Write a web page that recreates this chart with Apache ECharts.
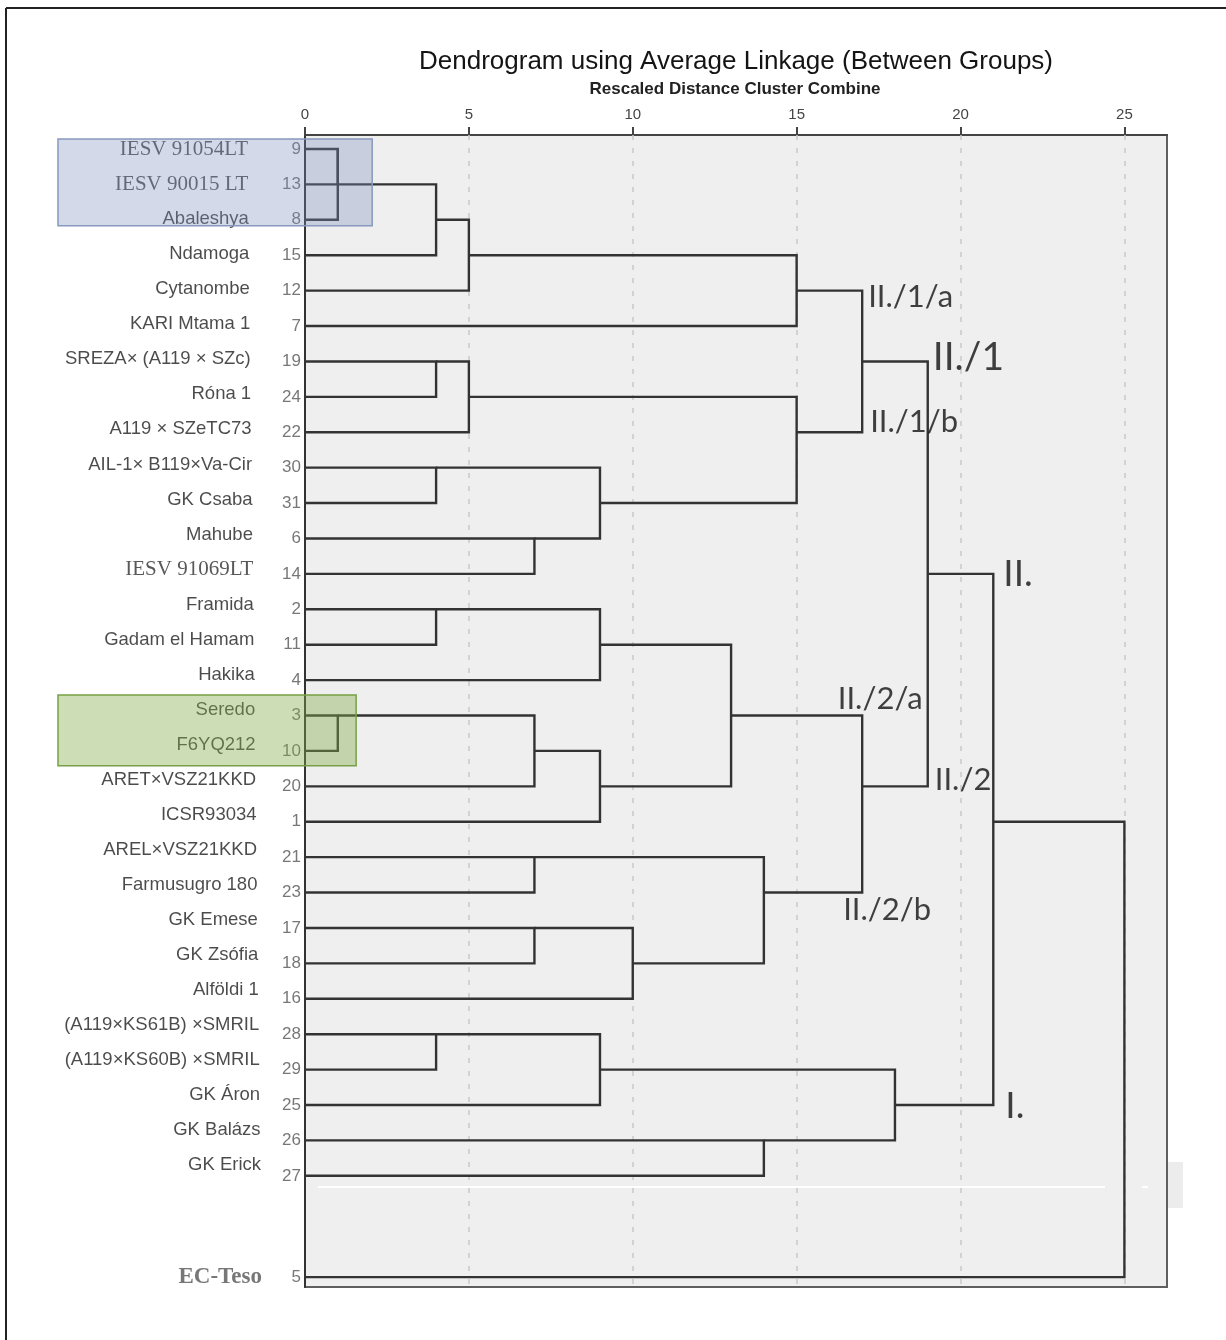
<!DOCTYPE html>
<html>
<head>
<meta charset="utf-8">
<script src="https://cdn.jsdelivr.net/npm/echarts@6/dist/echarts.min.js"></script>
<style>
  html, body { margin: 0; padding: 0; background: #ffffff; }
  #chart { width: 1226px; height: 1340px; }
</style>
</head>
<body>
<div id="chart"></div>
<script>
// Cases in dendrogram order, top to bottom
const caseNumbers = [9, 13, 8, 15, 12, 7, 19, 24, 22, 30, 31, 6, 14, 2, 11, 4, 3, 10, 20, 1, 21, 23, 17, 18, 16, 28, 29, 25, 26, 27, 5];
const caseNames = [
  'IESV 91054LT', 'IESV 90015 LT', 'Abaleshya', 'Ndamoga', 'Cytanombe', 'KARI Mtama 1',
  'SREZA× (A119 × SZc)', 'Róna 1', 'A119 × SZeTC73', 'AIL-1× B119×Va-Cir', 'GK Csaba', 'Mahube',
  'IESV 91069LT', 'Framida', 'Gadam el Hamam', 'Hakika', 'Seredo', 'F6YQ212', 'ARET×VSZ21KKD',
  'ICSR93034', 'AREL×VSZ21KKD', 'Farmusugro 180', 'GK Emese', 'GK Zsófia', 'Alföldi 1',
  '(A119×KS61B) ×SMRIL', '(A119×KS60B) ×SMRIL', 'GK Áron', 'GK Balázs', 'GK Erick', 'EC-Teso'
];

// Agglomeration steps: [cluster A, cluster B, rescaled distance].
// Numbers are case numbers, 'cK' is the cluster formed at step K.
const merges = [
  [9, 13, 1], ['c0', 8, 1], ['c1', 15, 4], ['c2', 12, 5], ['c3', 7, 15],
  [19, 24, 4], ['c5', 22, 5],
  [30, 31, 4], [6, 14, 7], ['c7', 'c8', 9],
  ['c6', 'c9', 15],
  ['c4', 'c10', 17],
  [2, 11, 4], ['c12', 4, 9],
  [3, 10, 1], ['c14', 20, 7], ['c15', 1, 9],
  ['c13', 'c16', 13],
  [21, 23, 7], [17, 18, 7], ['c19', 16, 10], ['c18', 'c20', 14],
  ['c17', 'c21', 17],
  ['c11', 'c22', 19],
  [28, 29, 4], ['c24', 25, 9], [26, 27, 14], ['c25', 'c26', 18],
  ['c23', 'c27', 21],
  ['c28', 5, 25]
];

// Group names and the cluster each one marks
const groupNames = ['II./1/a', 'II./1/b', 'II./1', 'II.', 'II./2/a', 'II./2', 'II./2/b', 'I.'];
const groupClusters = ['c4', 'c10', 'c11', 'c23', 'c17', 'c22', 'c21', 'c27'];

// Distance axis ticks
const distanceTicks = [0, 5, 10, 15, 20, 25];

// ---------------------------------------------------------------------------
const SANS = "'Liberation Sans', Arial, sans-serif";
const SERIF = "'Liberation Serif', 'Times New Roman', serif";
const NOTE = "Lato, 'Open Sans', sans-serif";

const X_MAX = 26.3;
const Y_MIN = -0.395, Y_MAX = 32.14;
const OUTLIER_GAP = 2.86;   // the last case is drawn apart from the others

const nLeaves = caseNumbers.length;
const leafRow = caseNumbers.map((c, i) => (i < nLeaves - 1 ? i : i - 1 + OUTLIER_GAP));

// Build the link polylines from the agglomeration steps
const nodes = {};
caseNumbers.forEach((c, i) => { nodes[c] = { h: 0, y: leafRow[i] }; });
const joinHeight = {};
const linkData = merges.map(([a, b, h], k) => {
  const A = nodes[a], B = nodes[b];
  nodes['c' + k] = { h: h, y: Math.floor((A.y + B.y) / 2) };
  joinHeight[a] = h;
  joinHeight[b] = h;
  return { coords: [[A.h, A.y], [h, A.y], [h, B.y], [B.h, B.y]] };
});

// Placement of the group names next to their links
const groupLabelStyle = {
  'II./1/a': { offset: [6, 6], size: 31, pos: 'right' },
  'II./1/b': { offset: [8, -10], size: 31, pos: 'right' },
  'II./1':   { offset: [5, -4], size: 39, pos: 'right' },
  'II.':     { offset: [10, 0], size: 37, pos: 'right' },
  'II./2/a': { offset: [18, -17], size: 31, pos: 'inside' },
  'II./2':   { offset: [7, -6], size: 31, pos: 'right' },
  'II./2/b': { offset: [25, 17], size: 31, pos: 'inside' },
  'I.':      { offset: [12, 1], size: 37, pos: 'right' }
};

const groupData = groupNames.map((name, i) => {
  const key = groupClusters[i];
  const st = groupLabelStyle[name];
  return {
    value: [joinHeight[key], nodes[key].y],
    label: {
      formatter: name,
      position: st.pos,
      distance: 0,
      offset: st.offset,
      fontSize: st.size
    }
  };
});

const numberData = caseNumbers.map((c, i) => [0, leafRow[i]]);

const nameData = caseNames.map((name, i) => {
  const last = i === nLeaves - 1;
  const serif = name.indexOf('IESV') === 0;
  const label = {
    distance: last ? 43 : 57 - i * 0.45,
    offset: [0, last ? 0 : -i * 0.36]
  };
  if (serif) {
    label.fontFamily = SERIF;
    label.fontSize = 21;
    label.color = '#2e2e2e';
  }
  if (last) {
    label.fontFamily = SERIF;
    label.fontSize = 23;
    label.fontWeight = 'bold';
    label.color = '#555555';
  }
  return { value: [0, leafRow[i]], label: label };
});

const gridLineData = distanceTicks.filter(t => t > 0).map(t => ({ coords: [[t, Y_MIN], [t, Y_MAX]] }));

const chart = echarts.init(document.getElementById('chart'), null, { renderer: 'canvas' });

chart.setOption({
  backgroundColor: '#ffffff',
  animation: false,
  grid: {
    left: 305, top: 135, width: 862, height: 1152,
    show: true, backgroundColor: '#efefef', borderColor: '#5f5f5f', borderWidth: 2
  },
  xAxis: {
    type: 'value', position: 'top', min: 0, max: X_MAX, interval: 5,
    axisLine: { show: true, onZero: false, lineStyle: { color: '#444444', width: 2 } },
    axisTick: { show: true, length: 8, lineStyle: { color: '#444444', width: 2 }, customValues: distanceTicks },
    axisLabel: {
      customValues: distanceTicks, margin: 13, color: '#444444', fontSize: 15, fontFamily: SANS,
      formatter: v => (v % 5 === 0 ? String(v) : '')
    },
    splitLine: { show: false }
  },
  yAxis: {
    type: 'value', inverse: true, min: Y_MIN, max: Y_MAX,
    axisLine: { show: true, onZero: false, lineStyle: { color: '#333333', width: 2 } },
    axisTick: { show: false }, axisLabel: { show: false }, splitLine: { show: false }
  },
  series: [
    {
      name: 'grid', type: 'lines', coordinateSystem: 'cartesian2d', silent: true, z: 1,
      lineStyle: { color: '#c9c9c9', width: 1.5, type: [5, 8], opacity: 1 },
      data: gridLineData
    },
    {
      name: 'links', type: 'lines', coordinateSystem: 'cartesian2d', polyline: true, silent: true, z: 3,
      lineStyle: { color: '#333333', width: 2.4, opacity: 1 },
      data: linkData
    },
    {
      name: 'case numbers', type: 'scatter', symbolSize: 0, silent: true, z: 4,
      label: {
        show: true, position: 'left', distance: 4, color: '#555555', fontSize: 17, fontFamily: SANS,
        formatter: p => String(caseNumbers[p.dataIndex])
      },
      data: numberData
    },
    {
      name: 'case names', type: 'scatter', symbolSize: 0, silent: true, z: 4,
      label: {
        show: true, position: 'left', color: '#1e1e1e', fontSize: 18.5, fontFamily: SANS,
        formatter: p => caseNames[p.dataIndex]
      },
      data: nameData
    },
    {
      name: 'groups', type: 'scatter', symbolSize: 0, silent: true, z: 5,
      label: { show: true, color: '#111111', fontFamily: NOTE },
      data: groupData
    }
  ]
});

// Title, frame and the two highlighted case groups
const px = (x, y) => chart.convertToPixel({ gridIndex: 0 }, [x, y]);
const blueTL = px(0, -0.28), blueBR = px(2.05, 2.17);
const greenTL = px(0, 15.42), greenBR = px(1.56, 17.42);
const boxLeft = 58;

chart.setOption({
  graphic: [
    {
      type: 'text', x: 736, y: 62, z: 10,
      style: {
        text: 'Dendrogram using Average Linkage (Between Groups)',
        fontSize: 26, fontFamily: SANS, fill: '#141414', align: 'center', verticalAlign: 'middle'
      }
    },
    {
      type: 'text', x: 735, y: 89, z: 10,
      style: {
        text: 'Rescaled Distance Cluster Combine',
        fontSize: 17, fontWeight: 'bold', fontFamily: SANS, fill: '#222222', align: 'center', verticalAlign: 'middle'
      }
    },
    { type: 'line', z: 10, shape: { x1: 6, y1: 8, x2: 1226, y2: 8 }, style: { stroke: '#222222', lineWidth: 2 } },
    { type: 'line', z: 10, shape: { x1: 6, y1: 8, x2: 6, y2: 1340 }, style: { stroke: '#222222', lineWidth: 2 } },
    { type: 'line', z: 6, shape: { x1: 318, y1: 1187, x2: 1105, y2: 1187 }, style: { stroke: '#ffffff', lineWidth: 2 } },
    { type: 'line', z: 6, shape: { x1: 1142, y1: 1187, x2: 1148, y2: 1187 }, style: { stroke: '#ffffff', lineWidth: 2 } },
    { type: 'rect', z: 0, shape: { x: 1168, y: 1162, width: 15, height: 46 }, style: { fill: '#ececec' } },
    {
      type: 'rect', z: 8,
      shape: { x: boxLeft, y: blueTL[1], width: blueBR[0] - boxLeft, height: blueBR[1] - blueTL[1] },
      style: { fill: 'rgba(120,140,185,0.33)', stroke: '#8799bd', lineWidth: 1.5 }
    },
    {
      type: 'rect', z: 8,
      shape: { x: boxLeft, y: greenTL[1], width: greenBR[0] - boxLeft, height: greenBR[1] - greenTL[1] },
      style: { fill: 'rgba(130,170,70,0.4)', stroke: '#77a044', lineWidth: 1.5 }
    }
  ]
});
</script>
</body>
</html>
